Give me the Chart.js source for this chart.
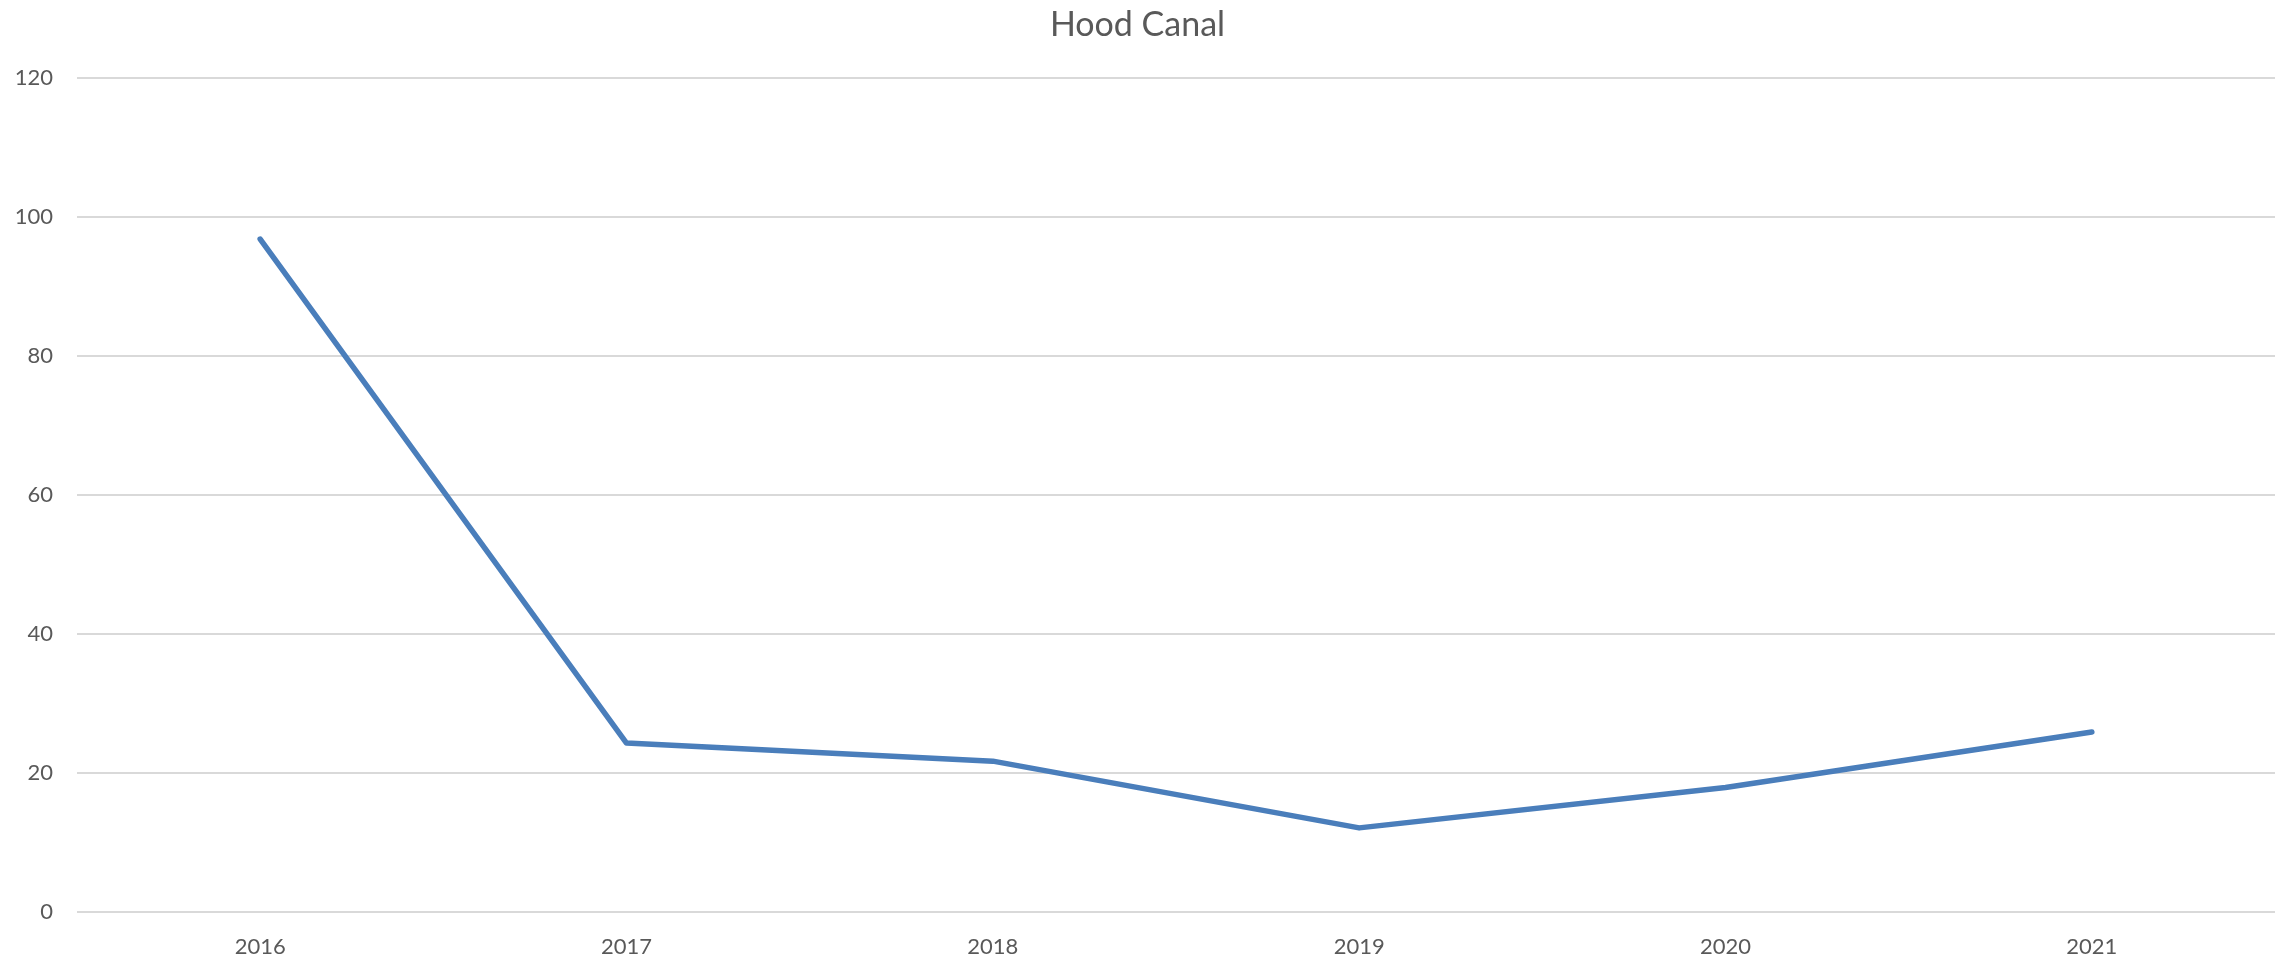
<!DOCTYPE html>
<html>
<head>
<meta charset="utf-8">
<title>Hood Canal</title>
<script src="https://cdn.jsdelivr.net/npm/chart.js@4"></script>
<style>
  html, body { margin: 0; padding: 0; background: #fff; }
  #wrap { width: 2285px; height: 957px; }
</style>
</head>
<body>
<div id="wrap"><canvas id="chart" width="2285" height="957"></canvas></div>
<script>
const years = ['2016', '2017', '2018', '2019', '2020', '2021'];
const counts = [96.8, 24.3, 21.7, 12.1, 17.9, 25.9];
const yTicks = [0, 20, 40, 60, 80, 100, 120];

const textColor = '#595959';
const gridColor = '#d9d9d9';
const fontFamily = 'Lato, "Open Sans", sans-serif';

new Chart(document.getElementById('chart').getContext('2d'), {
  type: 'line',
  data: {
    labels: years,
    datasets: [{
      data: counts,
      borderColor: '#4a7ebb',
      borderWidth: 5.5,
      borderCapStyle: 'round',
      borderJoinStyle: 'round',
      pointRadius: 0,
      tension: 0,
      fill: false
    }]
  },
  options: {
    responsive: false,
    animation: false,
    layout: { padding: { left: 0, right: 10, top: 0, bottom: 0 } },
    scales: {
      x: {
        offset: true,
        grid: { display: false },
        border: { display: false },
        ticks: { color: textColor, font: { family: fontFamily, size: 22 }, padding: 14 },
        afterFit: scale => { scale.height = 45; }
      },
      y: {
        min: yTicks[0],
        max: yTicks[yTicks.length - 1],
        afterBuildTicks: scale => { scale.ticks = yTicks.map(v => ({ value: v })); },
        grid: { color: gridColor, lineWidth: 2, drawTicks: false },
        border: { display: false },
        ticks: { color: textColor, font: { family: fontFamily, size: 22 }, padding: 24 },
        afterFit: scale => { scale.width = 77; }
      }
    },
    plugins: {
      legend: { display: false },
      tooltip: { enabled: false },
      title: {
        display: true,
        text: 'Hood Canal',
        color: textColor,
        font: { family: fontFamily, size: 34, weight: 'normal' },
        padding: { top: 5, bottom: 32 }
      }
    }
  }
});
</script>
</body>
</html>
